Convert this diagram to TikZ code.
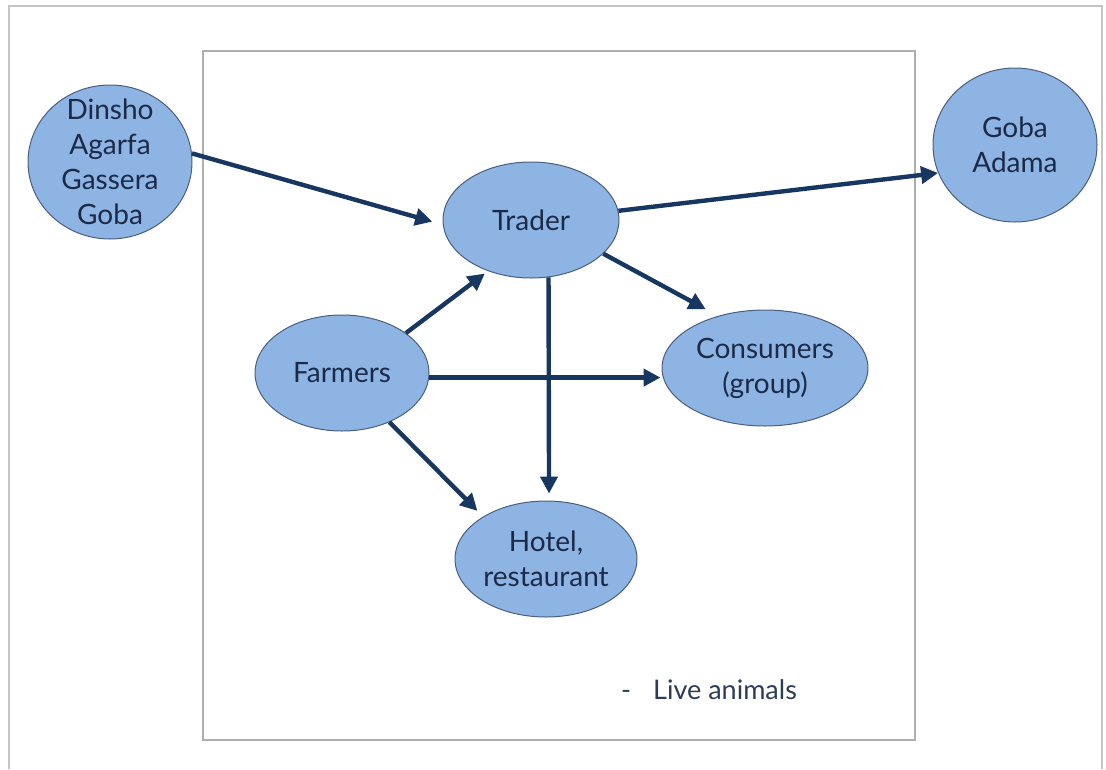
\documentclass[tikz,border=0pt]{standalone}
\usepackage{fontspec}
\setmainfont{Lato}
\usetikzlibrary{shapes.geometric,arrows.meta}
\definecolor{nodefill}{HTML}{8DB4E2}
\definecolor{nodeline}{HTML}{4A5F80}
\definecolor{flow}{HTML}{173760}
\definecolor{ink}{HTML}{1B2A48}
\definecolor{noteink}{HTML}{2E3C55}
\definecolor{framegray}{HTML}{C4C4C4}
\definecolor{boxgray}{HTML}{AFAFAF}
\begin{document}
\begin{tikzpicture}[x=1pt,y=-1pt,
  place/.style={ellipse, fill=nodefill, draw=nodeline, line width=1pt,
    inner sep=0pt},
  caption/.style={text=ink, font=\fontsize{28}{35}\selectfont, align=center},
  flowarrow/.style={draw=flow, line width=4.4pt,
    -{Triangle[length=17pt,width=17pt]}}]
\useasboundingbox (0,0) rectangle (1106,769);

% slide frame and content box
\draw[framegray, line width=2pt] (9,769) -- (9,6) -- (1102,6) -- (1102,769);
\draw[boxgray, line width=1.3pt] (203,51) rectangle (915,740);

% market actors
\node[place, minimum width=164pt, minimum height=154pt,
  label={[caption]center:Dinsho\\Agarfa\\Gassera\\Goba}] (din) at (110,162) {};
\node[place, minimum width=164pt, minimum height=154pt,
  label={[caption]center:Goba\\Adama}] (goba) at (1015,145) {};
\node[place, minimum width=176pt, minimum height=116pt,
  label={[caption]center:Trader}] (trader) at (531,220) {};
\node[place, minimum width=174pt, minimum height=116pt,
  label={[caption]center:Farmers}] (farm) at (342,373) {};
\node[place, minimum width=206pt, minimum height=116pt,
  label={[caption]center:Consumers\\(group)}] (cons) at (765,368) {};
\node[place, minimum width=182pt, minimum height=116pt,
  label={[caption]center:Hotel,\\restaurant}] (hotel) at (546,559) {};

% product flows
\draw[flowarrow, shorten >=11pt] (din.6) -- (trader.183);
\draw[flowarrow] (trader.6) -- (goba.200);
\draw[flowarrow, shorten >=14pt] (trader.-25) -- (cons.132);
\draw[flowarrow, shorten >=4pt] (farm.32) -- (trader.230);
\draw[flowarrow, shorten >=1pt] (farm.-3.5) -- (farm.-3.5 -| cons.west);
\draw[flowarrow, shorten >=7pt] (trader.287) -- (hotel.87);
\draw[flowarrow, shorten >=8pt] (farm.314) -- (hotel.146.5);

% commodity note
\node[anchor=west, text=noteink, font=\fontsize{27}{32}\selectfont, inner sep=0pt]
  (note) at (621,690) {-\hspace{22pt}Live animals};
\end{tikzpicture}
\end{document}
